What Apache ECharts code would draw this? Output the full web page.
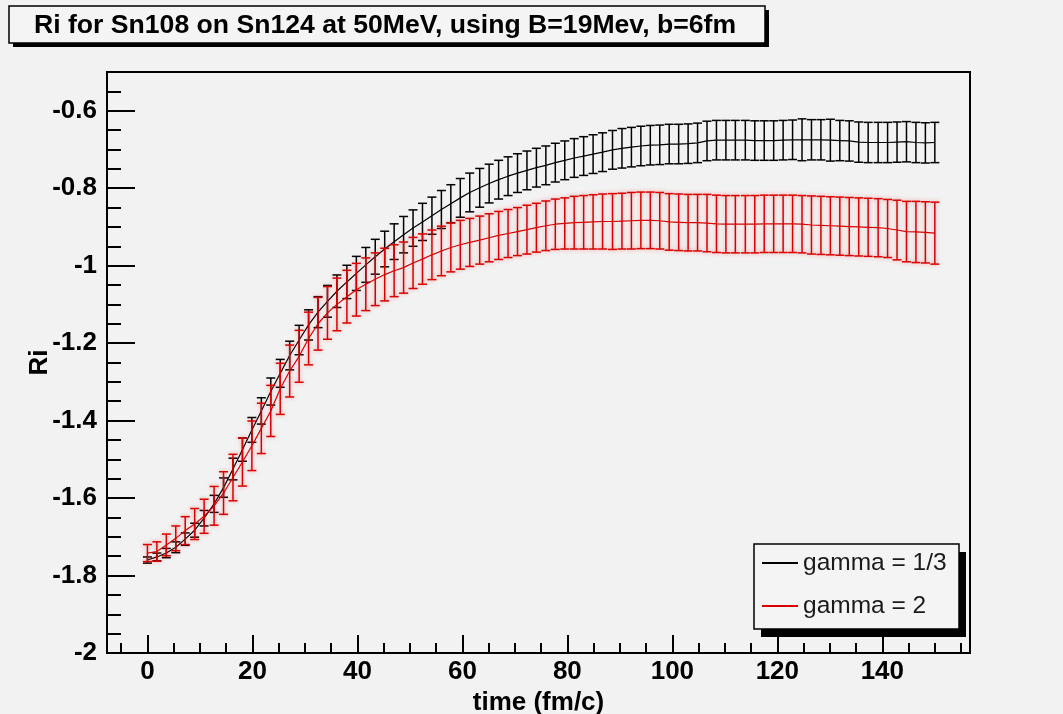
<!DOCTYPE html>
<html>
<head>
<meta charset="utf-8">
<script src="https://cdn.jsdelivr.net/npm/echarts@6/dist/echarts.min.js"></script>
<style>
  html, body { margin: 0; padding: 0; background: #f2f2f2; }
  #chart { width: 1063px; height: 714px; }
</style>
</head>
<body>
<div id="chart"></div>
<script>
// time grid (fm/c)
const times = [0, 1.8, 3.6, 5.4, 7.2, 9.0, 10.8, 12.7, 14.5, 16.3, 18.1, 19.9, 21.7, 23.5, 25.3, 27.1,
  28.9, 30.7, 32.5, 34.3, 36.1, 38.0, 39.8, 41.6, 43.4, 45.2, 47.0, 48.8, 50.6, 52.4, 54.2, 56.0,
  57.8, 59.6, 61.4, 63.3, 65.1, 66.9, 68.7, 70.5, 72.3, 74.1, 75.9, 77.7, 79.5, 81.3, 83.1, 84.9,
  86.7, 88.6, 90.4, 92.2, 94.0, 95.8, 97.6, 99.4, 101.2, 103.0, 104.8, 106.6, 108.4, 110.2, 112.0,
  113.9, 115.7, 117.5, 119.3, 121.1, 122.9, 124.7, 126.5, 128.3, 130.1, 131.9, 133.7, 135.5, 137.3,
  139.2, 141.0, 142.8, 144.6, 146.4, 148.2, 150.0];

// gamma = 1/3
const blackMean = [-1.760, -1.752, -1.742, -1.727, -1.706, -1.683, -1.652, -1.615, -1.573, -1.525,
  -1.475, -1.424, -1.375, -1.325, -1.278, -1.232, -1.192, -1.153, -1.120, -1.092,
  -1.066, -1.042, -1.020, -0.998, -0.977, -0.957, -0.938, -0.920, -0.903, -0.887,
  -0.871, -0.855, -0.840, -0.825, -0.811, -0.799, -0.788, -0.778, -0.769, -0.761,
  -0.754, -0.747, -0.741, -0.734, -0.728, -0.722, -0.717, -0.712, -0.707, -0.701,
  -0.697, -0.694, -0.691, -0.689, -0.688, -0.686, -0.686, -0.685, -0.683, -0.678,
  -0.676, -0.676, -0.676, -0.676, -0.677, -0.677, -0.677, -0.676, -0.675, -0.675,
  -0.675, -0.675, -0.676, -0.677, -0.678, -0.681, -0.682, -0.682, -0.682, -0.681,
  -0.680, -0.682, -0.683, -0.682];
const blackErr = [0.008, 0.010, 0.012, 0.014, 0.016, 0.018, 0.020, 0.022, 0.025, 0.028,
  0.030, 0.032, 0.034, 0.035, 0.036, 0.037, 0.038, 0.039, 0.040, 0.041,
  0.042, 0.043, 0.044, 0.045, 0.045, 0.046, 0.046, 0.047, 0.047, 0.048,
  0.048, 0.049, 0.049, 0.050, 0.050, 0.050, 0.050, 0.050, 0.050, 0.050,
  0.050, 0.050, 0.050, 0.050, 0.050, 0.050, 0.050, 0.050, 0.050, 0.050,
  0.051, 0.051, 0.051, 0.051, 0.051, 0.051, 0.051, 0.051, 0.051, 0.051,
  0.051, 0.051, 0.051, 0.051, 0.051, 0.051, 0.051, 0.051, 0.051, 0.054,
  0.052, 0.052, 0.054, 0.052, 0.052, 0.052, 0.052, 0.052, 0.052, 0.052,
  0.052, 0.052, 0.052, 0.052];

// gamma = 2
const redMean = [-1.742, -1.738, -1.721, -1.704, -1.684, -1.667, -1.647, -1.620, -1.587, -1.547,
  -1.507, -1.465, -1.420, -1.375, -1.318, -1.272, -1.234, -1.188, -1.150, -1.122,
  -1.100, -1.080, -1.062, -1.048, -1.035, -1.023, -1.013, -1.005, -0.993, -0.983,
  -0.972, -0.962, -0.953, -0.946, -0.940, -0.934, -0.928, -0.922, -0.917, -0.912,
  -0.907, -0.902, -0.897, -0.893, -0.891, -0.889, -0.888, -0.887, -0.886, -0.886,
  -0.885, -0.884, -0.883, -0.883, -0.884, -0.887, -0.888, -0.889, -0.889, -0.890,
  -0.892, -0.893, -0.893, -0.893, -0.893, -0.892, -0.892, -0.892, -0.892, -0.893,
  -0.895, -0.896, -0.897, -0.898, -0.899, -0.900, -0.901, -0.902, -0.904, -0.908,
  -0.912, -0.913, -0.914, -0.916];
const redErr = [0.022, 0.025, 0.028, 0.032, 0.036, 0.040, 0.044, 0.050, 0.055, 0.060,
  0.062, 0.064, 0.065, 0.066, 0.066, 0.067, 0.067, 0.068, 0.068, 0.068,
  0.068, 0.068, 0.068, 0.068, 0.068, 0.068, 0.067, 0.066, 0.066, 0.065,
  0.064, 0.064, 0.063, 0.063, 0.062, 0.062, 0.062, 0.062, 0.062, 0.062,
  0.063, 0.063, 0.064, 0.065, 0.066, 0.068, 0.069, 0.070, 0.071, 0.072,
  0.072, 0.073, 0.073, 0.073, 0.073, 0.073, 0.073, 0.073, 0.073, 0.074,
  0.074, 0.074, 0.074, 0.074, 0.074, 0.074, 0.074, 0.074, 0.074, 0.074,
  0.075, 0.075, 0.075, 0.075, 0.075, 0.075, 0.075, 0.075, 0.075, 0.077,
  0.078, 0.079, 0.079, 0.080];

const xLabels = [0, 20, 40, 60, 80, 100, 120, 140];
const xMinor = [-5, 0, 5, 10, 15, 20, 25, 30, 35, 40, 45, 50, 55, 60, 65, 70, 75, 80, 85, 90, 95,
  100, 105, 110, 115, 120, 125, 130, 135, 140, 145, 150, 155];
const yLabels = [-2, -1.8, -1.6, -1.4, -1.2, -1, -0.8, -0.6];
const yMinor = [-2, -1.95, -1.9, -1.85, -1.8, -1.75, -1.7, -1.65, -1.6, -1.55, -1.5, -1.45, -1.4,
  -1.35, -1.3, -1.25, -1.2, -1.15, -1.1, -1.05, -1, -0.95, -0.9, -0.85, -0.8, -0.75, -0.7,
  -0.65, -0.6, -0.55];

const names = ['gamma = 1/3', 'gamma = 2'];
const BLACK = '#000000';
const RED = '#d80000';
const FONT = '"Liberation Sans", Arial, sans-serif';
const X_MIN = -7.7, X_MAX = 156.7;

function meanPts(mean) {
  return times.map((t, i) => [t, mean[i]]);
}
function errPts(mean, err) {
  return times.map((t, i) => [t, mean[i] - err[i], mean[i] + err[i]]);
}
function errBars(color, glow) {
  return function (params, api) {
    const x = api.value(0);
    const lo = api.coord([x, api.value(1)]);
    const hi = api.coord([x, api.value(2)]);
    const cap = 4.5;
    const style = { stroke: color, lineWidth: 1.5 };
    if (glow) {
      style.shadowBlur = 4;
      style.shadowColor = 'rgba(255,60,60,0.45)';
    }
    return {
      type: 'group',
      children: [
        { type: 'line', shape: { x1: lo[0], y1: lo[1], x2: hi[0], y2: hi[1] }, style: style },
        { type: 'line', shape: { x1: hi[0] - cap, y1: hi[1], x2: hi[0] + cap, y2: hi[1] }, style: style },
        { type: 'line', shape: { x1: lo[0] - cap, y1: lo[1], x2: lo[0] + cap, y2: lo[1] }, style: style }
      ]
    };
  };
}
// ROOT style pave: hard black shadow, then the framed box
function pave(x, y, w, h, off) {
  return [
    { type: 'rect', z: 50, shape: { x: x + off[0], y: y + off[1], width: w, height: h },
      style: { fill: '#000' } },
    { type: 'rect', z: 51, shape: { x: x, y: y, width: w, height: h },
      style: { fill: '#f4f4f4', stroke: '#000', lineWidth: 1.5 } }
  ];
}

const chart = echarts.init(document.getElementById('chart'));

const option = {
  animation: false,
  backgroundColor: '#f2f2f2',
  graphic: [].concat(pave(9, 6, 756, 37, [4, 4]), pave(754, 544, 205, 85, [7, 8])),
  title: {
    text: 'Ri for Sn108 on Sn124 at 50MeV, using B=19Mev, b=6fm',
    left: 34,
    top: 12,
    padding: 0,
    z: 60,
    textStyle: { fontFamily: FONT, fontWeight: 'bold', fontSize: 26.6, color: '#000' }
  },
  legend: {
    data: names,
    orient: 'vertical',
    left: 762,
    top: 550,
    padding: 0,
    itemGap: 17,
    itemWidth: 36,
    itemHeight: 2,
    icon: 'rect',
    z: 60,
    textStyle: { fontFamily: FONT, fontSize: 24.5, lineHeight: 26, color: '#1a1a1a' }
  },
  grid: {
    left: 107, right: 93, top: 72, bottom: 61,
    outerBoundsMode: 'none',
    containLabel: false,
    show: true,
    backgroundColor: '#f2f2f2',
    borderColor: '#000',
    borderWidth: 2
  },
  xAxis: [{
    type: 'value',
    min: X_MIN, max: X_MAX,
    name: 'time (fm/c)',
    nameLocation: 'middle',
    nameGap: 37,
    nameMoveOverlap: false,
    nameTextStyle: { fontFamily: FONT, fontWeight: 'bold', fontSize: 26, color: '#000' },
    splitLine: { show: false },
    axisLine: { onZero: false, lineStyle: { color: '#000', width: 2 } },
    axisTick: { inside: true, length: 18, customValues: xLabels, lineStyle: { color: '#000', width: 2 } },
    axisLabel: { customValues: xLabels, margin: 6, fontFamily: FONT, fontWeight: 'bold', fontSize: 26, color: '#000' }
  }, {
    type: 'value',
    min: X_MIN, max: X_MAX,
    position: 'bottom',
    splitLine: { show: false },
    axisLine: { show: false, onZero: false },
    axisLabel: { show: false },
    axisTick: { inside: true, length: 10, customValues: xMinor, lineStyle: { color: '#000', width: 2 } }
  }],
  yAxis: [{
    type: 'value',
    min: -2, max: -0.5,
    name: 'Ri',
    nameLocation: 'middle',
    nameRotate: 90,
    nameGap: 54,
    nameMoveOverlap: false,
    nameTextStyle: { fontFamily: FONT, fontWeight: 'bold', fontSize: 26, color: '#000' },
    splitLine: { show: false },
    axisLine: { onZero: false, lineStyle: { color: '#000', width: 2 } },
    axisTick: { inside: true, length: 28, customValues: yLabels, lineStyle: { color: '#000', width: 2 } },
    axisLabel: { customValues: yLabels, margin: 10, fontFamily: FONT, fontWeight: 'bold', fontSize: 26, color: '#000' }
  }, {
    type: 'value',
    min: -2, max: -0.5,
    position: 'left',
    offset: 0,
    splitLine: { show: false },
    axisLine: { show: false, onZero: false },
    axisLabel: { show: false },
    axisTick: { inside: true, length: 14, customValues: yMinor, lineStyle: { color: '#000', width: 2 } }
  }],
  series: [
    {
      type: 'custom',
      renderItem: errBars(BLACK, false),
      encode: { x: 0, y: [1, 2] },
      data: errPts(blackMean, blackErr),
      z: 2
    },
    {
      name: names[0],
      type: 'line',
      data: meanPts(blackMean),
      showSymbol: false,
      symbol: 'none',
      color: BLACK,
      lineStyle: { color: BLACK, width: 1.2 },
      z: 3
    },
    {
      type: 'custom',
      renderItem: errBars(RED, true),
      encode: { x: 0, y: [1, 2] },
      data: errPts(redMean, redErr),
      z: 4
    },
    {
      name: names[1],
      type: 'line',
      data: meanPts(redMean),
      showSymbol: false,
      symbol: 'none',
      color: RED,
      lineStyle: { color: RED, width: 1.2 },
      z: 5
    }
  ]
};

chart.setOption(option);
</script>
</body>
</html>
